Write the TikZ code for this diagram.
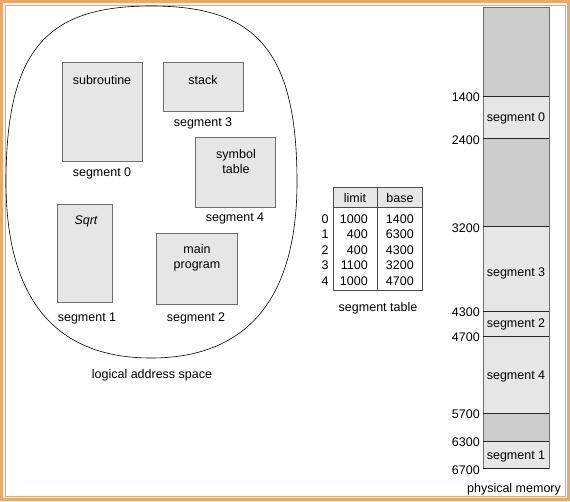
\documentclass[tikz,border=0pt]{standalone}
\usepackage{fontspec}
\setmainfont{Liberation Sans}
\definecolor{frameor}{RGB}{236,168,104}
\definecolor{lgray}{RGB}{230,230,230}
\definecolor{dgray}{RGB}{204,204,204}
\definecolor{edgegray}{RGB}{110,110,110}
\begin{document}
\begin{tikzpicture}[x=1pt,y=-1pt,
  font=\fontsize{12.5}{15}\selectfont,
  box/.style={draw=edgegray, fill=lgray, line width=0.8pt, inner sep=0pt, anchor=north west},
  lbl/.style={inner sep=0pt, align=center},
  num/.style={inner sep=0pt, anchor=east},
  memlight/.style={fill=lgray},
  memdark/.style={fill=dgray},
  sepline/.style={draw=black!85, line width=0.7pt},
  tabline/.style={draw=black!70, line width=0.7pt}]
\useasboundingbox (0,0) rectangle (570,501);
\fill[white] (0,0) rectangle (570,501);
% frame
\draw[frameor, line width=2.5pt] (1.5,1.5) rectangle (568.5,499.5);
\draw[frameor, line width=0.8pt] (5,5) rectangle (565,496);

% logical address space outline
\draw[line width=0.6pt] (6,182) .. controls (6,48) and (48,6) .. (151,6)
  .. controls (254,6) and (297,48) .. (297,182)
  .. controls (297,300) and (246,358) .. (151,358)
  .. controls (56,358) and (6,300) .. (6,182);

% segments in logical space
\node[box, minimum width=80, minimum height=99] (sub) at (62,62) {};
\node[lbl] (subt) at (102,80) {subroutine};
\node[lbl] (s0) at (102,173) {segment 0};

\node[box, minimum width=80, minimum height=49] (stk) at (163,62) {};
\node[lbl] (stkt) at (203,80) {stack};
\node[lbl] (s3) at (203,123) {segment 3};

\node[box, minimum width=80, minimum height=70] (sym) at (195,137) {};
\node[lbl, font=\fontsize{12.5}{15}\selectfont] (symt) at (236,162) {symbol\\table};
\node[lbl] (s4) at (235,218) {segment 4};

\node[box, minimum width=55, minimum height=98] (sq) at (57,204) {};
\node[lbl] (sqt) at (86,221) {\itshape Sqrt};
\node[lbl] (s1) at (87,318) {segment 1};

\node[box, minimum width=81, minimum height=71] (mp) at (156,233) {};
\node[lbl, font=\fontsize{12.5}{15}\selectfont] (mpt) at (197,258) {main\\program};
\node[lbl] (s2) at (196,318) {segment 2};

\node[lbl] (las) at (152,375) {logical address space};

% segment table
\node[box, minimum width=89, minimum height=20] (thead) at (333,187) {};
\draw[tabline] (333,187) rectangle (422,290);
\draw[tabline] (333,207) -- (422,207);
\draw[tabline] (377,187) -- (377,290);
\node[lbl] (hl) at (355,198) {limit};
\node[lbl] (hb) at (400,198) {base};
\foreach \i/\l/\b/\y in {0/1000/1400/219, 1/400/6300/234, 2/400/4300/250, 3/1100/3200/265, 4/1000/4700/281}{
  \node[lbl] (ti\i) at (325,\y) {\i};
  \node[num] (tl\i) at (368,\y) {\l};
  \node[num] (tb\i) at (414,\y) {\b};
}
\node[lbl] (stab) at (378,308) {segment table};

% physical memory
\fill[memdark] (483,7) rectangle (549,96);
\fill[memlight] (483,96) rectangle (549,138);
\fill[memdark] (483,138) rectangle (549,226);
\fill[memlight] (483,226) rectangle (549,413);
\fill[memdark] (483,413) rectangle (549,441);
\fill[memlight] (483,441) rectangle (549,468);
\draw[draw=edgegray, line width=0.8pt] (483,7) rectangle (549,468);
\foreach \y in {96,138,226,311,336,413,441}{
  \draw[sepline] (483,\y) -- (549,\y);
}
\draw[sepline] (483,468) -- (549,468);
\node[lbl] (m0) at (516,118) {segment 0};
\node[lbl] (m3) at (516,273) {segment 3};
\node[lbl] (m2) at (516,324) {segment 2};
\node[lbl] (m4) at (516,376) {segment 4};
\node[lbl] (m1) at (516,456) {segment 1};
\foreach \v/\y in {1400/97, 2400/140, 3200/228, 4300/312, 4700/337, 5700/414, 6300/442, 6700/470}{
  \node[num] (a\v) at (480,\y) {\v};
}
\node[lbl] (pm) at (514,489) {physical memory};
\end{tikzpicture}
\end{document}
